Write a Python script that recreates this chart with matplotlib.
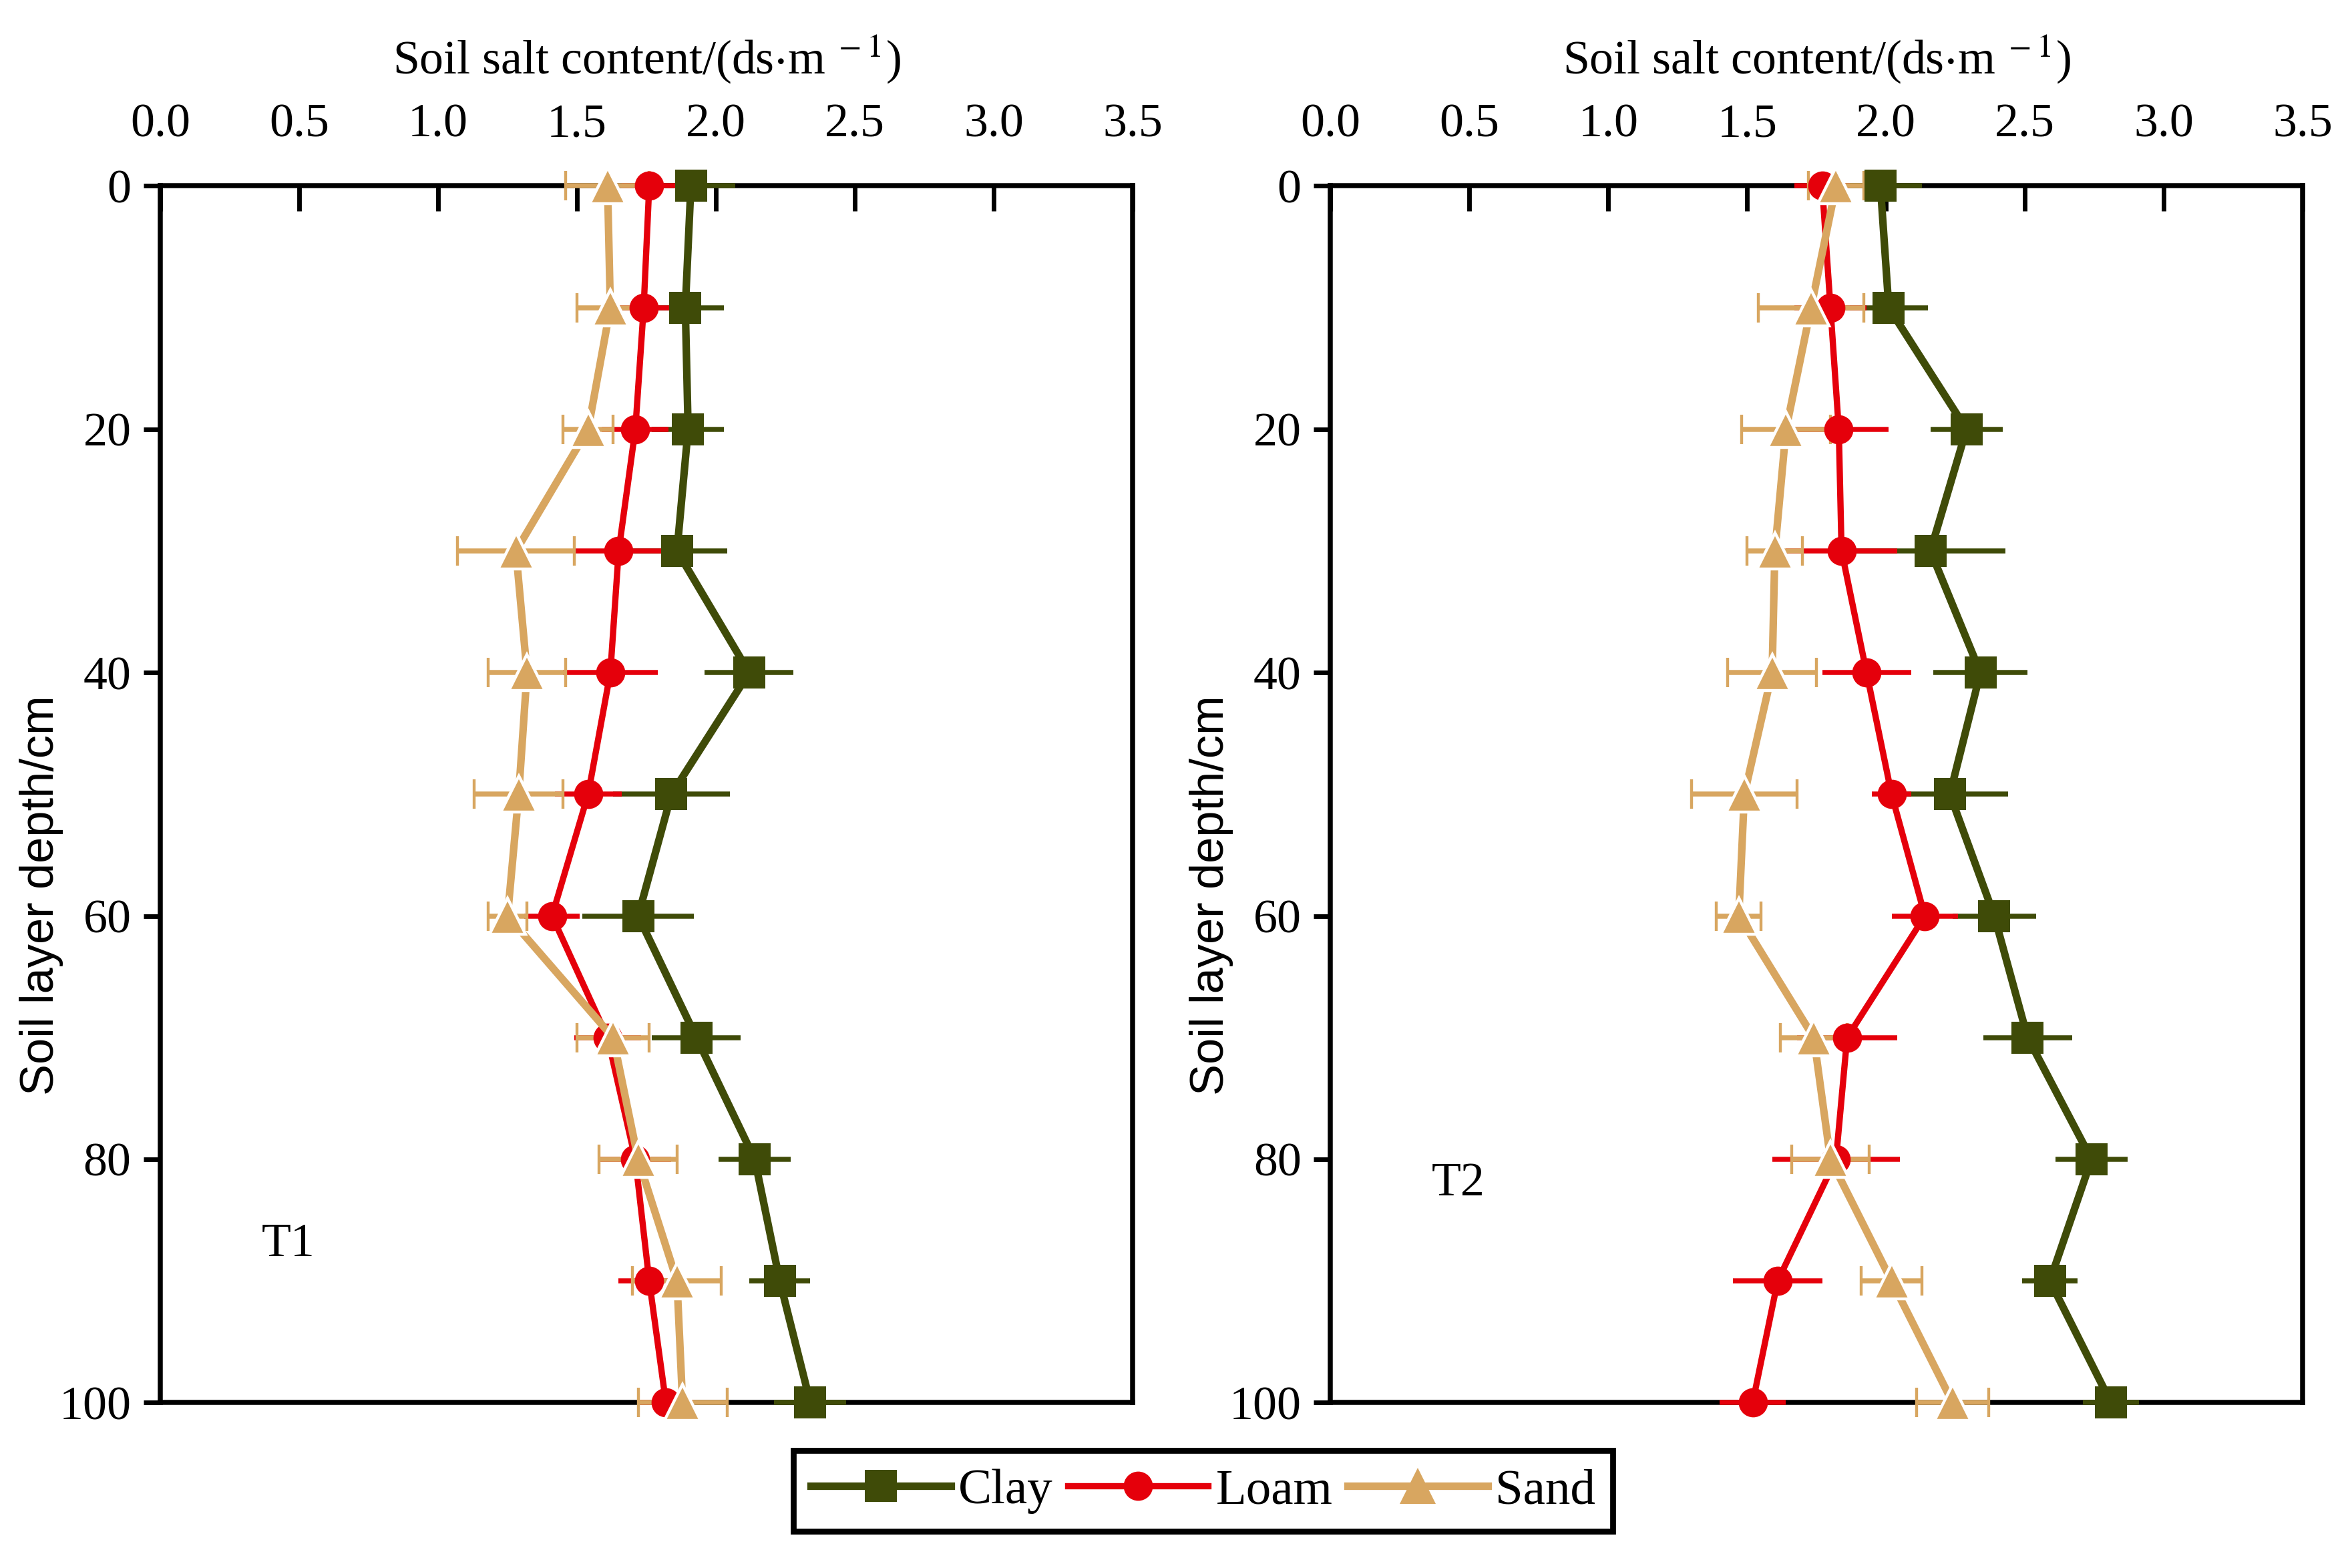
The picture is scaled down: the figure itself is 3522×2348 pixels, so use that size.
import matplotlib
matplotlib.use("Agg")
import matplotlib.pyplot as plt
from matplotlib.lines import Line2D
import numpy as np

plt.rcParams.update({
    "font.family": ["Liberation Serif", "DejaVu Serif"],
    "mathtext.fontset": "stix",
    "font.size": 23,
})

depth = [0, 10, 20, 30, 40, 50, 60, 70, 80, 90, 100]

# T1
clay_t1 = [1.91, 1.89, 1.90, 1.86, 2.12, 1.84, 1.72, 1.93, 2.14, 2.23, 2.34]
clay_t1_err = [0.16, 0.14, 0.13, 0.18, 0.16, 0.21, 0.20, 0.16, 0.13, 0.11, 0.13]
loam_t1 = [1.76, 1.74, 1.71, 1.65, 1.62, 1.54, 1.41, 1.61, 1.71, 1.76, 1.82]
loam_t1_err = [0.10, 0.14, 0.12, 0.16, 0.17, 0.12, 0.10, 0.12, 0.13, 0.11, 0.10]
sand_t1 = [1.61, 1.62, 1.54, 1.28, 1.32, 1.29, 1.25, 1.63, 1.72, 1.86, 1.88]
sand_t1_err = [0.15, 0.12, 0.09, 0.21, 0.14, 0.16, 0.07, 0.13, 0.14, 0.16, 0.16]

# T2
clay_t2 = [1.98, 2.01, 2.29, 2.16, 2.34, 2.23, 2.39, 2.51, 2.74, 2.59, 2.81]
clay_t2_err = [0.15, 0.14, 0.13, 0.27, 0.17, 0.21, 0.15, 0.16, 0.13, 0.10, 0.10]
loam_t2 = [1.77, 1.80, 1.83, 1.84, 1.93, 2.02, 2.14, 1.86, 1.82, 1.61, 1.52]
loam_t2_err = [0.10, 0.13, 0.18, 0.20, 0.16, 0.07, 0.12, 0.18, 0.23, 0.16, 0.12]
sand_t2 = [1.82, 1.73, 1.64, 1.60, 1.59, 1.49, 1.47, 1.74, 1.80, 2.02, 2.24]
sand_t2_err = [0.10, 0.19, 0.16, 0.10, 0.16, 0.19, 0.08, 0.12, 0.14, 0.11, 0.13]

panels = [
    ("T1", clay_t1, clay_t1_err, loam_t1, loam_t1_err, sand_t1, sand_t1_err, 87),
    ("T2", clay_t2, clay_t2_err, loam_t2, loam_t2_err, sand_t2, sand_t2_err, 82),
]

colors = {"Clay": "#3f4b08", "Loam": "#e5000b", "Sand": "#d8a660"}
markers = {"Clay": "s", "Loam": "o", "Sand": "^"}
msize = {"Clay": 15.5, "Loam": 14, "Sand": 17}
lw = {"Clay": 3.6, "Loam": 3.0, "Sand": 3.6}

fig = plt.figure(figsize=(3522 / 225, 2348 / 225), dpi=225)
lefts = [0.0682, 0.5657]
for left, (name, cl, cle, lo, loe, sa, sae, ty) in zip(lefts, panels):
    ax = fig.add_axes([left, 0.1055, 0.4133, 0.7759])
    for lab, vals, errs in (("Clay", cl, cle), ("Loam", lo, loe), ("Sand", sa, sae)):
        ax.errorbar(vals, depth, xerr=errs, color=colors[lab],
                    marker=markers[lab], markersize=msize[lab],
                    markeredgecolor=colors[lab] if lab != "Sand" else "white",
                    markeredgewidth=0 if lab != "Sand" else 1.4,
                    linewidth=lw[lab], elinewidth=2.4, capsize=7, capthick=2.4,
                    zorder=3, clip_on=False)
    ax.set_xlim(0, 3.5)
    ax.set_ylim(100, 0)
    ax.set_xticks(np.arange(0, 3.51, 0.5))
    ax.set_yticks(range(0, 101, 20))
    ax.xaxis.tick_top()
    ax.xaxis.set_label_position("top")
    ax.tick_params(axis="x", direction="in", length=12, width=2.2, pad=19)
    ax.tick_params(axis="y", direction="out", length=8, width=2.2, pad=6)
    ax.set_xticklabels([f"{v:.1f}" for v in np.arange(0, 3.51, 0.5)])
    for s in ax.spines.values():
        s.set_linewidth(2.4)
    ax.set_xlabel(r"Soil salt content/(ds$\cdot$m$^{\ -1}$)", labelpad=14)
    ax.set_ylabel("Soil layer depth/cm", family=["Liberation Sans", "DejaVu Sans"],
                  fontsize=22.5)
    ax.yaxis.set_label_coords(-0.10, 0.417)
    ax.text(0.46, ty, name, fontsize=23, ha="center", va="center")

handles = [Line2D([], [], color=colors[k], marker=markers[k], markersize=msize[k],
                  linewidth=lw[k], markeredgewidth=0) for k in ("Clay", "Loam", "Sand")]
leg = fig.legend(handles=handles, labels=["Clay", "Loam", "Sand"], loc="center",
                 bbox_to_anchor=(0.5115, 0.049), ncol=3, frameon=True,
                 fancybox=False, edgecolor="black", framealpha=1,
                 handlelength=2.8, handletextpad=0.15, columnspacing=0.3,
                 borderpad=0.35, fontsize=24)
leg.get_frame().set_linewidth(2.8)

fig.savefig("out.png", dpi=225)
